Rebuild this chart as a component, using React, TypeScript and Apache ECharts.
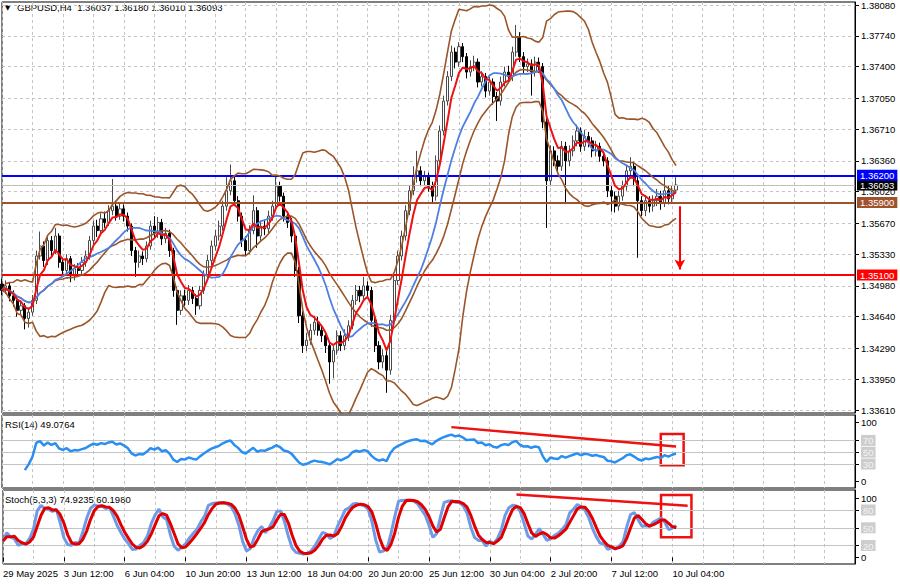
import React, { useEffect, useRef } from "react";
import * as echarts from "echarts";

// ---- tick labels ----
const tickLabels = ["29 May 2025", "3 Jun 12:00", "6 Jun 04:00", "10 Jun 20:00", "13 Jun 12:00", "18 Jun 04:00", "20 Jun 20:00", "25 Jun 12:00", "30 Jun 04:00", "2 Jul 20:00", "7 Jul 12:00", "10 Jul 04:00"];
const priceTicks = [1.3808, 1.3774, 1.374, 1.3705, 1.3671, 1.3636, 1.3602, 1.3567, 1.3533, 1.3498, 1.3464, 1.3429, 1.3395, 1.3361];
const rsiTicks = [0, 30, 50, 70, 100];
const stochTicks = [0, 20, 50, 80, 100];

// ---- levels ----
const levelBlue = 1.362;
const levelBrown = 1.359;
const levelRed = 1.351;
const lastPrice = 1.36093;

// ---- GBPUSD H4 candles ----
const opens = [
  1.3500, 1.3493, 1.3498, 1.3487, 1.3482, 1.3471, 1.3476, 1.3462, 1.3469, 1.3482,
  1.3531, 1.3542, 1.3526, 1.3548, 1.3537, 1.3553, 1.3524, 1.3515, 1.3528, 1.3509,
  1.3517, 1.3515, 1.3524, 1.3531, 1.3548, 1.3564, 1.3559, 1.3572, 1.3568, 1.3581,
  1.3586, 1.3575, 1.3583, 1.3575, 1.3564, 1.3537, 1.3524, 1.3531, 1.3528, 1.3542,
  1.3564, 1.3556, 1.3568, 1.3550, 1.3556, 1.3537, 1.3493, 1.3471, 1.3487, 1.3482,
  1.3493, 1.3484, 1.3476, 1.3493, 1.3509, 1.3526, 1.3542, 1.3553, 1.3564, 1.3586,
  1.3603, 1.3614, 1.3592, 1.3575, 1.3548, 1.3537, 1.3559, 1.3581, 1.3553, 1.3564,
  1.3561, 1.3575, 1.3586, 1.3608, 1.3597, 1.3575, 1.3568, 1.3553, 1.3515, 1.3465,
  1.3432, 1.3438, 1.3449, 1.3458, 1.3449, 1.3443, 1.3432, 1.3414, 1.3427, 1.3443,
  1.3432, 1.3443, 1.3454, 1.3482, 1.3493, 1.3487, 1.3498, 1.3493, 1.3460, 1.3432,
  1.3414, 1.3421, 1.3405, 1.3460, 1.3504, 1.3531, 1.3553, 1.3581, 1.3603, 1.3619,
  1.3625, 1.3614, 1.3619, 1.3608, 1.3597, 1.3636, 1.3669, 1.3702, 1.3729, 1.3756,
  1.3745, 1.3762, 1.3751, 1.3734, 1.3740, 1.3745, 1.3723, 1.3729, 1.3713, 1.3723,
  1.3707, 1.3702, 1.3723, 1.3734, 1.3729, 1.3756, 1.3773, 1.3751, 1.3740, 1.3743,
  1.3734, 1.3745, 1.3740, 1.3679, 1.3614, 1.3647, 1.3636, 1.3630, 1.3652, 1.3636,
  1.3647, 1.3658, 1.3669, 1.3652, 1.3663, 1.3658, 1.3647, 1.3652, 1.3641, 1.3636,
  1.3603, 1.3597, 1.3586, 1.3597, 1.3608, 1.3625, 1.3630, 1.3614, 1.3592, 1.3581,
  1.3592, 1.3586, 1.3592, 1.3597, 1.3589, 1.3603, 1.3594, 1.36037
];
const highs = [
  1.3506, 1.3504, 1.3502, 1.3493, 1.3486, 1.3482, 1.3479, 1.3474, 1.3488, 1.3537,
  1.3558, 1.3547, 1.3554, 1.3553, 1.3562, 1.3556, 1.3529, 1.3533, 1.3531, 1.3522,
  1.3523, 1.3530, 1.3537, 1.3553, 1.3570, 1.3571, 1.3578, 1.3580, 1.3587, 1.3616,
  1.3592, 1.3589, 1.3588, 1.3579, 1.3567, 1.3541, 1.3537, 1.3536, 1.3547, 1.3570,
  1.3575, 1.3574, 1.3572, 1.3562, 1.3560, 1.3540, 1.3497, 1.3493, 1.3494, 1.3499,
  1.3497, 1.3489, 1.3498, 1.3515, 1.3532, 1.3548, 1.3560, 1.3570, 1.3592, 1.3618,
  1.3632, 1.3619, 1.3597, 1.3579, 1.3553, 1.3565, 1.3598, 1.3585, 1.3570, 1.3571,
  1.3581, 1.3592, 1.3620, 1.3613, 1.3601, 1.3580, 1.3573, 1.3557, 1.3519, 1.3470,
  1.3446, 1.3456, 1.3465, 1.3464, 1.3455, 1.3448, 1.3437, 1.3432, 1.3449, 1.3448,
  1.3450, 1.3460, 1.3488, 1.3499, 1.3498, 1.3508, 1.3503, 1.3497, 1.3464, 1.3437,
  1.3428, 1.3426, 1.3466, 1.3510, 1.3537, 1.3559, 1.3587, 1.3609, 1.3630, 1.3647,
  1.3630, 1.3625, 1.3623, 1.3613, 1.3642, 1.3675, 1.3708, 1.3735, 1.3763, 1.3761,
  1.3767, 1.3766, 1.3755, 1.3747, 1.3752, 1.3749, 1.3735, 1.3733, 1.3729, 1.3727,
  1.3712, 1.3729, 1.3740, 1.3741, 1.3762, 1.3786, 1.3778, 1.3756, 1.3749, 1.3748,
  1.3751, 1.3750, 1.3744, 1.3683, 1.3653, 1.3652, 1.3642, 1.3658, 1.3657, 1.3653,
  1.3664, 1.3676, 1.3673, 1.3670, 1.3668, 1.3662, 1.3658, 1.3656, 1.3646, 1.3640,
  1.3608, 1.3602, 1.3603, 1.3614, 1.3631, 1.3640, 1.3635, 1.3618, 1.3597, 1.3598,
  1.3597, 1.3598, 1.3605, 1.3603, 1.3620, 1.3608, 1.3609, 1.36180
];
const lows = [
  1.3488, 1.3489, 1.3481, 1.3475, 1.3464, 1.3466, 1.3450, 1.3452, 1.3465, 1.3478,
  1.3527, 1.3519, 1.3521, 1.3530, 1.3533, 1.3518, 1.3508, 1.3511, 1.3502, 1.3504,
  1.3508, 1.3511, 1.3519, 1.3527, 1.3544, 1.3552, 1.3555, 1.3562, 1.3564, 1.3576,
  1.3570, 1.3571, 1.3569, 1.3558, 1.3531, 1.3508, 1.3518, 1.3521, 1.3524, 1.3538,
  1.3550, 1.3551, 1.3543, 1.3545, 1.3530, 1.3486, 1.3455, 1.3466, 1.3476, 1.3477,
  1.3478, 1.3466, 1.3472, 1.3489, 1.3505, 1.3521, 1.3537, 1.3548, 1.3559, 1.3581,
  1.3598, 1.3586, 1.3569, 1.3541, 1.3531, 1.3533, 1.3555, 1.3540, 1.3547, 1.3554,
  1.3556, 1.3570, 1.3582, 1.3591, 1.3569, 1.3562, 1.3546, 1.3508, 1.3457, 1.3424,
  1.3426, 1.3433, 1.3444, 1.3443, 1.3436, 1.3424, 1.3390, 1.3396, 1.3422, 1.3426,
  1.3427, 1.3437, 1.3450, 1.3477, 1.3480, 1.3482, 1.3486, 1.3453, 1.3425, 1.3406,
  1.3407, 1.3380, 1.3400, 1.3455, 1.3499, 1.3526, 1.3548, 1.3576, 1.3598, 1.3612,
  1.3608, 1.3609, 1.3602, 1.3590, 1.3592, 1.3631, 1.3664, 1.3697, 1.3724, 1.3738,
  1.3740, 1.3745, 1.3727, 1.3729, 1.3735, 1.3717, 1.3718, 1.3706, 1.3708, 1.3698,
  1.3680, 1.3697, 1.3718, 1.3722, 1.3724, 1.3751, 1.3745, 1.3733, 1.3734, 1.3708,
  1.3729, 1.3733, 1.3672, 1.3562, 1.3608, 1.3630, 1.3622, 1.3625, 1.3590, 1.3630,
  1.3641, 1.3652, 1.3646, 1.3647, 1.3651, 1.3640, 1.3641, 1.3635, 1.3630, 1.3596,
  1.3580, 1.3579, 1.3581, 1.3592, 1.3603, 1.3620, 1.3608, 1.3529, 1.3575, 1.3575,
  1.3579, 1.3580, 1.3586, 1.3582, 1.3585, 1.3588, 1.3590, 1.36010
];
const closes = [
  1.3493, 1.3498, 1.3487, 1.3482, 1.3471, 1.3476, 1.3462, 1.3469, 1.3482, 1.3531,
  1.3542, 1.3526, 1.3548, 1.3537, 1.3553, 1.3524, 1.3515, 1.3528, 1.3509, 1.3517,
  1.3515, 1.3524, 1.3531, 1.3548, 1.3564, 1.3559, 1.3572, 1.3568, 1.3581, 1.3586,
  1.3575, 1.3583, 1.3575, 1.3564, 1.3537, 1.3524, 1.3531, 1.3528, 1.3542, 1.3564,
  1.3556, 1.3568, 1.3550, 1.3556, 1.3537, 1.3493, 1.3471, 1.3487, 1.3482, 1.3493,
  1.3484, 1.3476, 1.3493, 1.3509, 1.3526, 1.3542, 1.3553, 1.3564, 1.3586, 1.3603,
  1.3614, 1.3592, 1.3575, 1.3548, 1.3537, 1.3559, 1.3581, 1.3553, 1.3564, 1.3561,
  1.3575, 1.3586, 1.3608, 1.3597, 1.3575, 1.3568, 1.3553, 1.3515, 1.3465, 1.3432,
  1.3438, 1.3449, 1.3458, 1.3449, 1.3443, 1.3432, 1.3414, 1.3427, 1.3443, 1.3432,
  1.3443, 1.3454, 1.3482, 1.3493, 1.3487, 1.3498, 1.3493, 1.3460, 1.3432, 1.3414,
  1.3421, 1.3405, 1.3460, 1.3504, 1.3531, 1.3553, 1.3581, 1.3603, 1.3619, 1.3625,
  1.3614, 1.3619, 1.3608, 1.3597, 1.3636, 1.3669, 1.3702, 1.3729, 1.3756, 1.3745,
  1.3762, 1.3751, 1.3734, 1.3740, 1.3745, 1.3723, 1.3729, 1.3713, 1.3723, 1.3707,
  1.3702, 1.3723, 1.3734, 1.3729, 1.3756, 1.3773, 1.3751, 1.3740, 1.3743, 1.3734,
  1.3745, 1.3740, 1.3679, 1.3614, 1.3647, 1.3636, 1.3630, 1.3652, 1.3636, 1.3647,
  1.3658, 1.3669, 1.3652, 1.3663, 1.3658, 1.3647, 1.3652, 1.3641, 1.3636, 1.3603,
  1.3597, 1.3586, 1.3597, 1.3608, 1.3625, 1.3630, 1.3614, 1.3592, 1.3581, 1.3592,
  1.3586, 1.3592, 1.3597, 1.3589, 1.3603, 1.3594, 1.3603, 1.36093
];

const TOTAL_SLOTS = 225;
const FONT = "Liberation Sans, Arial, sans-serif";

// ---- indicator helpers ----
function sma(src: number[], n: number): number[] {
  return src.map((_, i) => {
    const w = src.slice(Math.max(0, i - n + 1), i + 1);
    return w.reduce((a, b) => a + b, 0) / w.length;
  });
}
function ema(src: number[], n: number): number[] {
  const k = 2 / (n + 1);
  let p = src[0];
  return src.map((v, i) => (p = i === 0 ? v : p + k * (v - p)));
}
function bands(src: number[], n: number, d: number) {
  const mid = sma(src, n);
  const up: number[] = [], lo: number[] = [];
  src.forEach((_, i) => {
    const w = src.slice(Math.max(0, i - n + 1), i + 1);
    const m = mid[i];
    const sd = Math.sqrt(w.reduce((a, b) => a + (b - m) * (b - m), 0) / w.length);
    up.push(m + d * sd);
    lo.push(m - d * sd);
  });
  return { mid, up, lo };
}
function rsi(c: number[], n: number): (number | null)[] {
  const out: (number | null)[] = [null];
  let ag = 0, al = 0;
  for (let i = 1; i < c.length; i++) {
    const d = c[i] - c[i - 1];
    const g = Math.max(d, 0), l = Math.max(-d, 0);
    if (i <= n) { ag = (ag * (i - 1) + g) / i; al = (al * (i - 1) + l) / i; }
    else { ag = (ag * (n - 1) + g) / n; al = (al * (n - 1) + l) / n; }
    out.push(i < 6 ? null : al === 0 ? 100 : 100 - 100 / (1 + ag / al));
  }
  return out;
}
function stoch(h: number[], l: number[], c: number[], kp: number, slow: number, dp: number) {
  const hh: number[] = [], ll: number[] = [];
  c.forEach((_, i) => {
    const s = Math.max(0, i - kp + 1);
    hh.push(Math.max(...h.slice(s, i + 1)));
    ll.push(Math.min(...l.slice(s, i + 1)));
  });
  const k = c.map((_, i) => {
    let num = 0, den = 0;
    for (let j = Math.max(0, i - slow + 1); j <= i; j++) { num += c[j] - ll[j]; den += hh[j] - ll[j]; }
    return den === 0 ? 50 : (num / den) * 100;
  });
  return { k, d: sma(k, dp) };
}

export default function App() {
  const ref = useRef<HTMLDivElement>(null);
  useEffect(() => {
    if (!ref.current) return;
    const chart = echarts.init(ref.current, null, { renderer: "svg" });
    const cats = Array.from({ length: TOTAL_SLOTS }, (_, i) => String(i));
    const bb = bands(closes, 20, 2);
    const fast = ema(closes, 5);
    const slowMa = sma(closes, 14);
    const rsiVals = rsi(closes, 14);
    const st = stoch(highs, lows, closes, 5, 3, 3);
    const candleData = closes.map((c, i) => [opens[i], c, lows[i], highs[i]]);

    const gridLeft = 2, gridWidth = 853;
    const vSplit = {
      show: true,
      interval: (i: number) => i % 8 === 0,
      lineStyle: { color: "#c4c4c4", type: [3, 3] as any, width: 1 },
    };
    const mkX = (g: number, bottom: boolean) => ({
      type: "category", data: cats, gridIndex: g, boundaryGap: false,
      axisLine: { show: false },
      axisTick: bottom
        ? { show: true, interval: (i: number) => i % 16 === 0 && i / 16 < tickLabels.length, length: 4, lineStyle: { color: "#000" } }
        : { show: false },
      axisLabel: bottom
        ? {
            show: true, interval: (i: number) => i % 16 === 0 && i / 16 < tickLabels.length,
            formatter: (_v: string, idx: number) => tickLabels[idx / 16] ?? "",
            align: "left", margin: 4, fontSize: 9.5, color: "#000", fontFamily: FONT,
          }
        : { show: false },
      splitLine: vSplit,
    });
    const grayBox = { backgroundColor: "#cdcdcd", color: "#f4f4f4", padding: [1, 2, 0, 2] };
    const mkY = (g: number, min: number, max: number, ticks: number[], fmt: (v: number) => string) => ({
      type: "value", gridIndex: g, position: "right", min, max, scale: true,
      splitLine: { show: false },
      axisLine: { show: true, lineStyle: { color: "#000" } },
      axisTick: { show: true, length: 4, customValues: ticks, lineStyle: { color: "#000" } },
      axisLabel: {
        customValues: ticks, formatter: fmt, fontSize: 9.5, color: "#000", margin: 6, fontFamily: FONT,
        rich: { g: { ...grayBox, fontSize: 9.5, fontFamily: FONT } },
      },
    });
    const oscFmt = (v: number) => (v === 0 || v === 100 ? String(v) : `{g|${v}}`);

    const levelLabel = (bg: string) => ({
      show: true, position: "end", distance: 2,
      formatter: (p: any) => Number(p.value).toFixed(5),
      color: "#fff", backgroundColor: bg, padding: [1, 3, 0, 3], fontSize: 9.5, fontFamily: FONT,
    });

    const option: any = {
      animation: false,
      backgroundColor: "#fff",
      grid: [
        { left: gridLeft, top: 0, width: gridWidth, height: 413, show: true, borderColor: "#000", borderWidth: 1 },
        { left: gridLeft, top: 415, width: gridWidth, height: 73, show: true, borderColor: "#000", borderWidth: 1 },
        { left: gridLeft, top: 490, width: gridWidth, height: 74, show: true, borderColor: "#000", borderWidth: 1 },
      ],
      xAxis: [mkX(0, false), mkX(1, false), mkX(2, true)],
      yAxis: [
        mkY(0, 1.33577, 1.38113, priceTicks, (v) => v.toFixed(5)),
        mkY(1, -10.7, 113.05, rsiTicks, oscFmt),
        mkY(2, -11.2, 113.8, stochTicks, oscFmt),
      ],
      graphic: [
        { type: "text", left: 5, top: 4, style: { text: "▼", fontSize: 7, fill: "#000", fontFamily: "DejaVu Sans" } },
        { type: "text", left: 17, top: 2, style: { text: "GBPUSD,H4  1.36037 1.36180 1.36010 1.36093", fontSize: 9.5, fill: "#000", fontFamily: FONT } },
        { type: "text", left: 5, top: 419, style: { text: "RSI(14) 49.0764", fontSize: 9.5, fill: "#000", fontFamily: FONT } },
        { type: "text", left: 5, top: 494, style: { text: "Stoch(5,3,3) 74.9235 60.1980", fontSize: 9.5, fill: "#000", fontFamily: FONT } },
      ],
      series: [
        {
          name: "grid", type: "line", xAxisIndex: 0, yAxisIndex: 0, data: [], silent: true,
          markLine: {
            silent: true, symbol: ["none", "none"], z: 1, animation: false, precision: 6,
            label: { show: false },
            lineStyle: { color: "#c4c4c4", type: [3, 3], width: 1 },
            data: priceTicks.map((v) => ({ yAxis: v })),
          },
        },
        {
          name: "GBPUSD", type: "candlestick", xAxisIndex: 0, yAxisIndex: 0, data: candleData,
          barWidth: 2.6, z: 3,
          itemStyle: { color: "#ffffff", color0: "#000000", borderColor: "#4a4a4a", borderColor0: "#000000", borderWidth: 1 },
          markLine: {
            silent: true, symbol: ["none", "none"], animation: false, z: 4, precision: 6,
            data: [
              { yAxis: lastPrice, lineStyle: { color: "#c0c0c0", width: 1, type: "solid" }, label: levelLabel("#000000") },
              { yAxis: levelBrown, lineStyle: { color: "#a0522d", width: 2, type: "solid" }, label: levelLabel("#a0522d") },
              { yAxis: levelRed, lineStyle: { color: "#ff0000", width: 2, type: "solid" }, label: levelLabel("#ff0000") },
              { yAxis: levelBlue, lineStyle: { color: "#0000ff", width: 2, type: "solid" }, label: levelLabel("#0000ff") },
              [
                { coord: [178, 1.3586], symbol: "none" },
                { coord: [178, 1.3516], symbol: "arrow", symbolSize: [8, 10], lineStyle: { color: "#ff0000", width: 2, type: "solid" }, label: { show: false } },
              ],
            ],
          },
        },
        ...[bb.up, bb.mid, bb.lo].map((d) => ({
          type: "line", xAxisIndex: 0, yAxisIndex: 0, data: d, showSymbol: false, silent: true, z: 4,
          lineStyle: { color: "#9a5528", width: 1.6 },
        })),
        { type: "line", xAxisIndex: 0, yAxisIndex: 0, data: slowMa, showSymbol: false, silent: true, z: 5, lineStyle: { color: "#4f7fe0", width: 1.8 } },
        { type: "line", xAxisIndex: 0, yAxisIndex: 0, data: fast, showSymbol: false, silent: true, z: 6, lineStyle: { color: "#ee1111", width: 2 } },
        {
          type: "line", xAxisIndex: 1, yAxisIndex: 1, data: rsiVals, showSymbol: false, silent: true, z: 5,
          lineStyle: { color: "#2a8ff0", width: 2.5 },
          markLine: {
            silent: true, symbol: ["none", "none"], animation: false, label: { show: false }, precision: 4,
            data: [
              ...[30, 50, 70].map((v) => ({ yAxis: v, lineStyle: { color: "#c4c4c4", width: 1, type: "solid" } })),
              [{ coord: [118, 92.5] }, { coord: [177, 59.5], lineStyle: { color: "#ee1111", width: 2.5, type: "solid" } }],
            ],
          },
          markArea: {
            silent: true,
            itemStyle: { color: "rgba(0,0,0,0)", borderColor: "#ee1111", borderWidth: 2.5 },
            data: [[{ coord: [173, 81] }, { coord: [179, 28] }]],
          },
        },
        {
          type: "line", xAxisIndex: 2, yAxisIndex: 2, data: st.k, showSymbol: false, silent: true, z: 5,
          lineStyle: { color: "#6f9ae8", width: 3 },
          markLine: {
            silent: true, symbol: ["none", "none"], animation: false, label: { show: false }, precision: 4,
            data: [20, 50, 80].map((v) => ({ yAxis: v, lineStyle: { color: "#c4c4c4", width: 1, type: "solid" } })),
          },
        },
        {
          type: "line", xAxisIndex: 2, yAxisIndex: 2, data: st.d, showSymbol: false, silent: true, z: 6,
          lineStyle: { color: "#e00000", width: 3 },
          markLine: {
            silent: true, symbol: ["none", "none"], animation: false, label: { show: false }, precision: 4,
            data: [[{ coord: [135, 106] }, { coord: [180, 87], lineStyle: { color: "#ee1111", width: 2.5, type: "solid" } }]],
          },
          markArea: {
            silent: true,
            itemStyle: { color: "rgba(0,0,0,0)", borderColor: "#ee1111", borderWidth: 2.5 },
            data: [[{ coord: [173, 105.5] }, { coord: [181, 34] }]],
          },
        },
      ],
    };
    chart.setOption(option);
    return () => chart.dispose();
  }, []);
  return (
    <div
      ref={ref}
      style={{ position: "fixed", left: 0, top: 0, width: 900, height: 584, background: "#fff" }}
    />
  );
}
